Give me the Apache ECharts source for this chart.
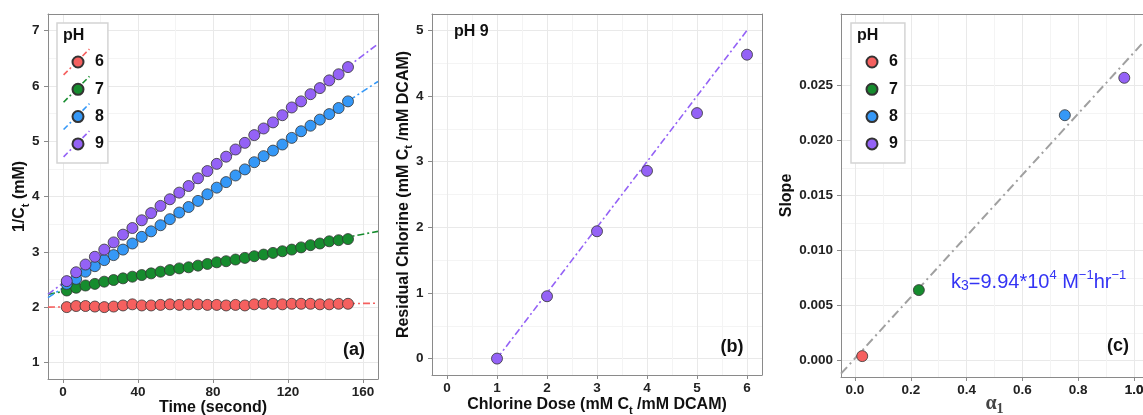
<!DOCTYPE html>
<html>
<head>
<meta charset="utf-8">
<script src="https://cdn.jsdelivr.net/npm/echarts@6/dist/echarts.min.js"></script>
<style>
  html, body { margin: 0; padding: 0; background: #fff; }
  #chart { width: 1143px; height: 415px; }
</style>
</head>
<body>
<div id="chart"></div>
<script>
// ---------------- DATA ----------------
const phLabels = ['6', '7', '8', '9'];
const phColors = ['#F5605F', '#168C2E', '#3598F7', '#9462F6'];

// Panel (a): 1/Ct vs time
const timeSec = [2,7,12,17,22,27,32,37,42,47,52,57,62,67,72,77,82,87,92,97,102,107,112,117,122,127,132,137,142,147,152];
const invCt_pH6 = [2.00,2.02,2.02,2.01,2.00,2.01,2.03,2.05,2.03,2.03,2.04,2.05,2.04,2.05,2.05,2.04,2.04,2.03,2.04,2.03,2.05,2.06,2.06,2.05,2.06,2.06,2.06,2.05,2.05,2.06,2.06];
const invCt_pH7 = [2.30,2.35,2.39,2.42,2.46,2.49,2.52,2.55,2.58,2.61,2.64,2.67,2.70,2.72,2.75,2.78,2.81,2.83,2.86,2.89,2.92,2.95,2.98,3.01,3.04,3.08,3.12,3.15,3.19,3.21,3.23];
const invCt_pH8 = [2.42,2.51,2.64,2.74,2.85,2.94,3.04,3.15,3.27,3.37,3.48,3.59,3.71,3.81,3.92,4.04,4.16,4.26,4.38,4.49,4.62,4.73,4.83,4.94,5.06,5.18,5.28,5.39,5.49,5.60,5.72];
const invCt_pH9 = [2.47,2.63,2.77,2.91,3.04,3.17,3.31,3.43,3.57,3.70,3.83,3.95,4.07,4.19,4.33,4.46,4.59,4.72,4.85,4.97,5.11,5.23,5.34,5.47,5.61,5.72,5.85,5.96,6.10,6.21,6.34];
// fitted lines (panel a) evaluated at the panel's x-limits
const fitTime = [-8, 168];
const fit_pH6 = [2.00, 2.07];
const fit_pH7 = [2.23, 3.37];
const fit_pH8 = [2.17, 6.08];
const fit_pH9 = [2.23, 6.76];

// Panel (b): residual chlorine vs dose, pH 9
const chlorineDose = [1, 2, 3, 4, 5, 6];
const residualCl = [0, 0.95, 1.94, 2.86, 3.74, 4.63];
const fitDose = [1, 6];
const fitResidual = [0, 5];

// Panel (c): slope vs alpha1
const alpha1 = [0.026, 0.229, 0.752, 0.965];
const slopeVals = [0.0004, 0.0064, 0.0223, 0.0257];
const fitAlpha = [-0.05, 1.05];
const fitSlope = [-0.0012, 0.0294];

// Tick values
const ticksA_x = [0, 40, 80, 120, 160];
const minorA_x = [20, 60, 100, 140];
const ticksA_y = [1, 2, 3, 4, 5, 6, 7];
const minorA_y = [1.5, 2.5, 3.5, 4.5, 5.5, 6.5];
const ticksB_x = [0, 1, 2, 3, 4, 5, 6];
const minorB_x = [0.5, 1.5, 2.5, 3.5, 4.5, 5.5];
const ticksB_y = [0, 1, 2, 3, 4, 5];
const minorB_y = [0.5, 1.5, 2.5, 3.5, 4.5];
const ticksC_x = [0, 0.2, 0.4, 0.6, 0.8, 1.0];
const minorC_x = [0.1, 0.3, 0.5, 0.7, 0.9];
const ticksC_y = [0, 0.005, 0.010, 0.015, 0.020, 0.025];
const minorC_y = [0.0025, 0.0075, 0.0125, 0.0175, 0.0225, 0.0275];

// ---------------- STYLE ----------------
const FONT = "'Liberation Sans', Arial, Helvetica, sans-serif";
const SERIF = "'Liberation Serif', 'Times New Roman', serif";
const TXT = '#111';
const BORDER = '#8a8a8a';
const MAJOR = '#e9e9e9';
const MINOR = '#f4f4f4';
const TICK_FONT = 'bold 13.5px ' + FONT;

const nameRich = {
  b: { fontSize: 16, fontWeight: 'bold', fontFamily: FONT, color: TXT, lineHeight: 22 },
  s: { fontSize: 11, fontWeight: 'bold', fontFamily: FONT, color: TXT, lineHeight: 11, verticalAlign: 'bottom' },
  a: { fontSize: 20, fontFamily: SERIF, color: '#444', lineHeight: 26 },
  as: { fontSize: 14, fontFamily: SERIF, color: '#444', lineHeight: 14, verticalAlign: 'bottom' }
};

function mainAxis(gridIndex, min, max, ticks, fmt, name, nameGap, pos, labelMargin) {
  return {
    type: 'value', gridIndex, min, max, position: pos,
    name, nameLocation: 'middle', nameGap, nameMoveOverlap: false,
    nameTextStyle: { fontSize: 16, fontWeight: 'bold', fontFamily: FONT, color: TXT, rich: nameRich },
    axisLine: { show: true, onZero: false, lineStyle: { color: BORDER, width: 1 } },
    axisTick: { show: true, length: 4, lineStyle: { color: BORDER, width: 1 }, customValues: ticks },
    axisLabel: { show: true, customValues: ticks, formatter: fmt, fontSize: 13.5, fontWeight: 'bold',
                 fontFamily: FONT, color: '#222', margin: labelMargin, hideOverlap: false,
                 showMinLabel: true, showMaxLabel: true },
    splitLine: { show: true, lineStyle: { color: MAJOR, width: 1 } }
  };
}
function minorAxis(gridIndex, min, max, ticks, pos, showLine) {
  return {
    type: 'value', gridIndex, min, max, position: pos,
    axisLine: { show: showLine, onZero: false, lineStyle: { color: BORDER, width: 1 } },
    axisTick: { show: false, customValues: ticks },
    axisLabel: { show: false },
    splitLine: { show: true, lineStyle: { color: MINOR, width: 1 } }
  };
}
const fInt = v => String(v);
const f1 = v => v.toFixed(1);
const f3 = v => v.toFixed(3);

const cXMin = -0.05, cXMax = 1.05;
const xAxes = [
  minorAxis(0, -8, 168, minorA_x, 'top', true),
  mainAxis(0, -8, 168, ticksA_x, fInt, 'Time (second)', 21, 'bottom', 6.5),
  minorAxis(1, -0.3, 6.3, minorB_x, 'top', true),
  mainAxis(1, -0.3, 6.3, ticksB_x, fInt, '{b|Chlorine Dose (mM C}{s|t}{b| /mM DCAM)}', 19, 'bottom', 6.5),
  minorAxis(2, cXMin, cXMax, minorC_x, 'top', true),
  mainAxis(2, cXMin, cXMax, ticksC_x, f1, '{a|α}{as|1}', 13.5, 'bottom', 6.5)
];
const yAxes = [
  minorAxis(0, 0.7, 7.3, minorA_y, 'right', true),
  mainAxis(0, 0.7, 7.3, ticksA_y, fInt, '{b|1/C}{s|t}{b| (mM)}', 17, 'left', 8.5),
  minorAxis(1, -0.25, 5.25, minorB_y, 'right', true),
  mainAxis(1, -0.25, 5.25, ticksB_y, fInt, '{b|Residual Chlorine (mM C}{s|t}{b| /mM DCAM)}', 17.5, 'left', 8.5),
  minorAxis(2, -0.0015, 0.0315, minorC_y, 'right', false),
  mainAxis(2, -0.0015, 0.0315, ticksC_y, f3, 'Slope', 46, 'left', 8)
];

const pts = (xs, ys) => xs.map((x, i) => [x, ys[i]]);
const DASH = [7, 3, 2, 3];
const series = [];
const fitsA = [fit_pH6, fit_pH7, fit_pH8, fit_pH9];
const valsA = [invCt_pH6, invCt_pH7, invCt_pH8, invCt_pH9];
fitsA.forEach((f, k) => series.push({
  type: 'line', name: 'fit' + phLabels[k], xAxisIndex: 1, yAxisIndex: 1,
  data: pts(fitTime, f), showSymbol: false, silent: true, z: 2,
  itemStyle: { color: phColors[k] },
  lineStyle: { color: phColors[k], width: 1.6, type: DASH }
}));
valsA.forEach((v, k) => series.push({
  type: 'scatter', name: phLabels[k], xAxisIndex: 1, yAxisIndex: 1,
  data: pts(timeSec, v), symbolSize: 11, z: 3,
  itemStyle: { color: phColors[k], borderColor: '#333', borderWidth: 0.8, opacity: 1 }
}));
series.push({
  type: 'line', name: 'fitB', xAxisIndex: 3, yAxisIndex: 3,
  data: pts(fitDose, fitResidual), showSymbol: false, silent: true, z: 2,
  lineStyle: { color: phColors[3], width: 1.6, type: DASH }
});
series.push({
  type: 'scatter', name: 'pH 9 (b)', xAxisIndex: 3, yAxisIndex: 3,
  data: pts(chlorineDose, residualCl), symbolSize: 11, z: 3,
  itemStyle: { color: phColors[3], borderColor: '#333', borderWidth: 0.8, opacity: 1 }
});
series.push({
  type: 'line', name: 'fitC', xAxisIndex: 5, yAxisIndex: 5,
  data: pts(fitAlpha, fitSlope), showSymbol: false, silent: true, z: 2,
  lineStyle: { color: '#a0a0a0', width: 2, type: [9, 4, 2, 4] }
});
alpha1.forEach((a, k) => series.push({
  type: 'scatter', name: phLabels[k], xAxisIndex: 5, yAxisIndex: 5,
  data: [[a, slopeVals[k]]], symbolSize: 11, z: 3,
  itemStyle: { color: phColors[k], borderColor: '#333', borderWidth: 0.8, opacity: 1 }
}));

// legend key glyph: a dash-dot diagonal (as drawn by the fit lines), built as a filled path
function diagonalDashIcon(patternPx, keyPx, widthPx) {
  const u = 100 / keyPx;
  const D = 100 * Math.SQRT2;
  const hw = widthPx * u / 2;
  const c = Math.SQRT1_2;
  const p = s => [s * c, 100 - s * c];
  const n = [hw * c, hw * c];
  let d = '';
  let s = 0, i = 0;
  while (s < D) {
    const len = patternPx[i % patternPx.length] * u;
    if (i % 2 === 0) {
      const s1 = Math.min(D, s + len);
      const a = p(s), b = p(s1);
      d += 'M' + (a[0] + n[0]).toFixed(2) + ',' + (a[1] + n[1]).toFixed(2) +
           'L' + (b[0] + n[0]).toFixed(2) + ',' + (b[1] + n[1]).toFixed(2) +
           'L' + (b[0] - n[0]).toFixed(2) + ',' + (b[1] - n[1]).toFixed(2) +
           'L' + (a[0] - n[0]).toFixed(2) + ',' + (a[1] - n[1]).toFixed(2) + 'Z';
    }
    s += len; i++;
  }
  return 'path://' + d;
}

function circleLegend(left, framed) {
  return {
    left, top: 23, orient: 'vertical', data: phLabels, icon: 'circle', selectedMode: false,
    itemWidth: 11, itemHeight: 11, itemGap: 11.3,
    padding: [31, 7, 11, 14.5],
    borderColor: framed ? '#d4d4d4' : 'transparent', borderWidth: framed ? 1.5 : 0,
    backgroundColor: framed ? '#fff' : 'transparent',
    textStyle: { fontSize: 16, fontWeight: 'bold', fontFamily: FONT, color: TXT, padding: [0, 0, 0, 6.5] }
  };
}
const lineKeyLegend = {
  left: 57, top: 23, orient: 'vertical', data: phLabels.map(l => 'fit' + l), selectedMode: false,
  icon: diagonalDashIcon([6, 3, 2, 3], 27, 1.7),
  itemWidth: 27, itemHeight: 27, itemGap: 0.3,
  padding: [25.5, 4, 5.6, 6],
  borderColor: '#d4d4d4', borderWidth: 1.5, backgroundColor: '#fff',
  itemStyle: { borderWidth: 0 },
  formatter: name => name.replace('fit', ''),
  textStyle: { fontSize: 16, fontWeight: 'bold', fontFamily: FONT, color: 'rgba(0,0,0,0)' }
};

const gridC = { left: 841, top: 14, width: 307, height: 363 };
// Panel (c) is cut by the picture edge and the library drops its last tick label (1.0);
// place that label where the panel's linear x scale puts it.
const lastC = ticksC_x[ticksC_x.length - 1];
const lastCpx = gridC.left + (lastC - cXMin) / (cXMax - cXMin) * gridC.width;

const bold = (size) => 'bold ' + size + 'px ' + FONT;
const graphics = [
  { type: 'text', x: 63, y: 35.5, z: 100, style: { text: 'pH', font: bold(16), fill: TXT, verticalAlign: 'middle' } },
  { type: 'text', x: 857, y: 35.5, z: 100, style: { text: 'pH', font: bold(16), fill: TXT, verticalAlign: 'middle' } },
  { type: 'text', x: 354, y: 350, z: 100, style: { text: '(a)', font: bold(18), fill: TXT, align: 'center', verticalAlign: 'middle' } },
  { type: 'text', x: 732, y: 347, z: 100, style: { text: '(b)', font: bold(18), fill: TXT, align: 'center', verticalAlign: 'middle' } },
  { type: 'text', x: 1118, y: 346, z: 100, style: { text: '(c)', font: bold(18), fill: TXT, align: 'center', verticalAlign: 'middle' } },
  { type: 'text', x: 454, y: 32, z: 100, style: { text: 'pH 9', font: bold(16), fill: TXT, verticalAlign: 'middle' } },
  { type: 'text', x: lastCpx, y: gridC.top + gridC.height + 6.5, z: 100,
    style: { text: f1(lastC), font: TICK_FONT, fill: '#222', align: 'center', verticalAlign: 'top' } },
  { type: 'text', x: 951, y: 268.5, z: 100, style: {
      text: '{m|k}{sb|3}{m|=9.94*10}{sp|4}{m| M}{sp|−1}{m|hr}{sp|−1}',
      rich: {
        m: { fontSize: 20, fontFamily: FONT, fill: '#3434F4', lineHeight: 27 },
        sb: { fontSize: 14, fontFamily: FONT, fill: '#3434F4', lineHeight: 14, verticalAlign: 'bottom', padding: [0, 0, 2.5, 0] },
        sp: { fontSize: 13, fontFamily: FONT, fill: '#3434F4', lineHeight: 13, verticalAlign: 'top' }
      }
  } }
];

const gridBase = { show: true, borderWidth: 0, backgroundColor: '#fff', containLabel: false, outerBoundsMode: 'none' };
const chart = echarts.init(document.getElementById('chart'), null, { renderer: 'canvas' });
chart.setOption({
  animation: false,
  backgroundColor: '#fff',
  grid: [
    Object.assign({ left: 48, top: 14, width: 330, height: 365 }, gridBase),
    Object.assign({ left: 432, top: 14, width: 330, height: 361 }, gridBase),
    Object.assign({}, gridC, gridBase)
  ],
  xAxis: xAxes,
  yAxis: yAxes,
  legend: [lineKeyLegend, circleLegend(57, false), circleLegend(851, true)],
  series,
  graphic: graphics
});
</script>
</body>
</html>
